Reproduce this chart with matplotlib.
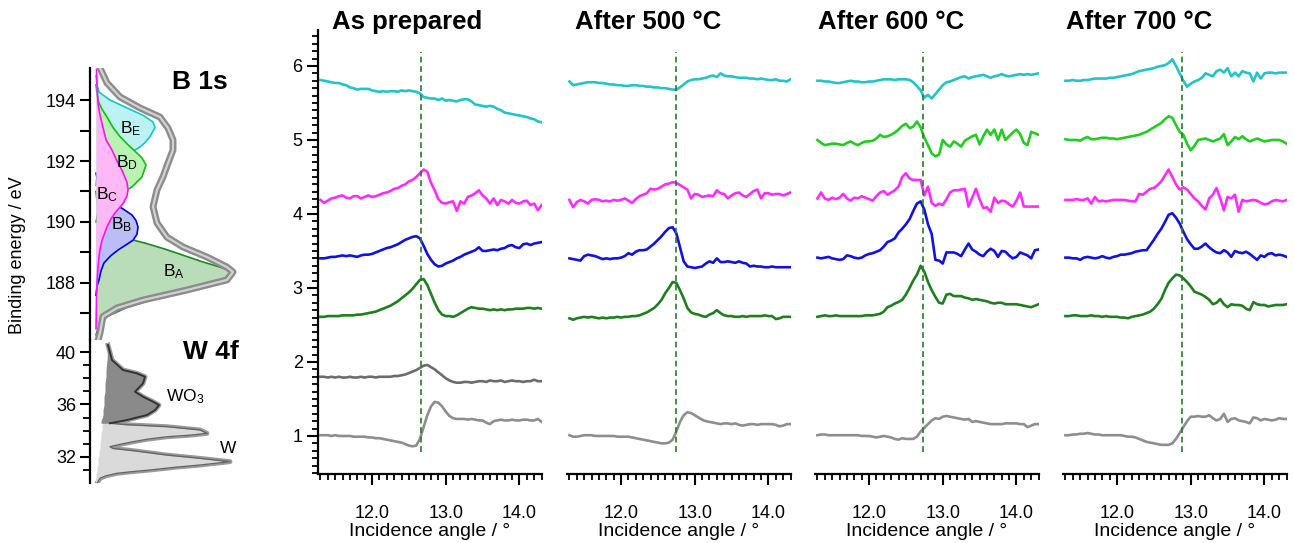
import numpy as np
import matplotlib
matplotlib.use('Agg')
import matplotlib.pyplot as plt
from matplotlib.ticker import MultipleLocator, FormatStrFormatter

plt.rcParams['font.family'] = ['Liberation Sans', 'DejaVu Sans']
plt.rcParams['mathtext.default'] = 'regular'

# ---------------- data ----------------
angle = [11.30, 11.35, 11.40, 11.45, 11.50, 11.55, 11.60, 11.65, 11.70, 11.75,
         11.80, 11.85, 11.90, 11.95, 12.00, 12.05, 12.10, 12.15, 12.20, 12.25,
         12.30, 12.35, 12.40, 12.45, 12.50, 12.55, 12.60, 12.65, 12.70, 12.75,
         12.80, 12.85, 12.90, 12.95, 13.00, 13.05, 13.10, 13.15, 13.20, 13.25,
         13.30, 13.35, 13.40, 13.45, 13.50, 13.55, 13.60, 13.65, 13.70, 13.75,
         13.80, 13.85, 13.90, 13.95, 14.00, 14.05, 14.10, 14.15, 14.20, 14.25, 14.30]

# as prepared
p1_cyan = [5.81, 5.80, 5.79, 5.78, 5.77, 5.77, 5.75, 5.74, 5.71, 5.70, 5.68, 5.69, 5.69, 5.69, 5.67, 5.66,
           5.65, 5.66, 5.65, 5.66, 5.66, 5.65, 5.67, 5.66, 5.67, 5.66, 5.65, 5.63, 5.58, 5.57, 5.56, 5.56,
           5.54, 5.56, 5.53, 5.54, 5.53, 5.52, 5.54, 5.55, 5.55, 5.52, 5.48, 5.47, 5.46, 5.45, 5.46, 5.45,
           5.42, 5.40, 5.37, 5.36, 5.35, 5.34, 5.33, 5.32, 5.31, 5.29, 5.28, 5.25, 5.24]
p1_magenta = [4.19, 4.15, 4.18, 4.21, 4.22, 4.24, 4.25, 4.22, 4.21, 4.24, 4.24, 4.21, 4.23, 4.25, 4.23, 4.24,
              4.26, 4.28, 4.29, 4.31, 4.34, 4.35, 4.38, 4.40, 4.44, 4.46, 4.50, 4.55, 4.60, 4.57, 4.42, 4.32,
              4.20, 4.15, 4.14, 4.16, 4.17, 4.04, 4.17, 4.14, 4.23, 4.25, 4.28, 4.32, 4.25, 4.21, 4.14, 4.21,
              4.12, 4.19, 4.17, 4.14, 4.19, 4.15, 4.14, 4.17, 4.18, 4.12, 4.14, 4.05, 4.12]
p1_blue = [3.40, 3.40, 3.41, 3.42, 3.42, 3.43, 3.44, 3.43, 3.44, 3.43, 3.42, 3.44, 3.45, 3.45, 3.46, 3.48,
           3.50, 3.52, 3.54, 3.55, 3.57, 3.59, 3.62, 3.65, 3.67, 3.69, 3.70, 3.67, 3.57, 3.46, 3.38, 3.32,
           3.29, 3.30, 3.33, 3.35, 3.37, 3.40, 3.42, 3.45, 3.47, 3.49, 3.51, 3.55, 3.50, 3.50, 3.51, 3.52,
           3.51, 3.53, 3.54, 3.57, 3.58, 3.55, 3.54, 3.59, 3.60, 3.58, 3.60, 3.61, 3.62]
p1_green = [2.61, 2.61, 2.62, 2.62, 2.62, 2.62, 2.63, 2.63, 2.63, 2.63, 2.64, 2.64, 2.65, 2.66, 2.67, 2.68,
            2.70, 2.72, 2.74, 2.76, 2.79, 2.82, 2.86, 2.90, 2.94, 2.99, 3.05, 3.11, 3.12, 3.04, 2.92, 2.80,
            2.70, 2.64, 2.62, 2.62, 2.61, 2.63, 2.66, 2.69, 2.72, 2.74, 2.73, 2.72, 2.72, 2.71, 2.70, 2.71,
            2.70, 2.71, 2.70, 2.71, 2.71, 2.72, 2.72, 2.72, 2.73, 2.73, 2.72, 2.73, 2.72]
p1_dgray = [1.80, 1.80, 1.79, 1.80, 1.79, 1.80, 1.79, 1.79, 1.80, 1.79, 1.79, 1.80, 1.79, 1.80, 1.80, 1.79,
            1.80, 1.80, 1.80, 1.80, 1.81, 1.81, 1.82, 1.83, 1.85, 1.87, 1.89, 1.92, 1.95, 1.96, 1.93, 1.90,
            1.86, 1.82, 1.78, 1.75, 1.73, 1.72, 1.72, 1.73, 1.73, 1.72, 1.73, 1.74, 1.74, 1.73, 1.75, 1.74,
            1.74, 1.75, 1.73, 1.74, 1.75, 1.74, 1.74, 1.73, 1.74, 1.74, 1.76, 1.74, 1.74]
p1_lgray = [1.01, 1.01, 1.01, 1.00, 1.01, 1.00, 1.00, 1.00, 1.00, 0.99, 0.99, 0.99, 0.99, 0.98, 0.98, 0.97,
            0.97, 0.96, 0.95, 0.94, 0.93, 0.92, 0.91, 0.89, 0.87, 0.86, 0.87, 0.96, 1.12, 1.28, 1.40, 1.46,
            1.45, 1.40, 1.33, 1.27, 1.24, 1.23, 1.23, 1.23, 1.22, 1.23, 1.22, 1.21, 1.21, 1.18, 1.16, 1.20,
            1.21, 1.22, 1.21, 1.21, 1.22, 1.21, 1.21, 1.22, 1.22, 1.21, 1.21, 1.23, 1.19]

# after 500 C
p2_cyan = [5.79, 5.74, 5.75, 5.76, 5.77, 5.78, 5.78, 5.78, 5.77, 5.77, 5.76, 5.75, 5.75, 5.74, 5.74, 5.73,
           5.73, 5.74, 5.74, 5.73, 5.73, 5.72, 5.72, 5.71, 5.71, 5.70, 5.70, 5.69, 5.68, 5.68, 5.71, 5.75,
           5.79, 5.81, 5.82, 5.82, 5.83, 5.84, 5.86, 5.87, 5.85, 5.90, 5.87, 5.86, 5.86, 5.85, 5.84, 5.84,
           5.84, 5.83, 5.83, 5.82, 5.83, 5.82, 5.81, 5.81, 5.82, 5.80, 5.80, 5.79, 5.82]
p2_magenta = [4.19, 4.09, 4.16, 4.19, 4.17, 4.14, 4.19, 4.20, 4.19, 4.17, 4.18, 4.17, 4.19, 4.18, 4.19, 4.21,
              4.18, 4.15, 4.20, 4.24, 4.26, 4.28, 4.34, 4.33, 4.34, 4.37, 4.40, 4.41, 4.43, 4.42, 4.39, 4.36,
              4.33, 4.21, 4.27, 4.26, 4.23, 4.24, 4.25, 4.24, 4.32, 4.28, 4.27, 4.21, 4.25, 4.28, 4.29, 4.25,
              4.23, 4.27, 4.31, 4.33, 4.21, 4.28, 4.28, 4.26, 4.27, 4.27, 4.25, 4.27, 4.29]
p2_blue = [3.40, 3.39, 3.38, 3.37, 3.43, 3.45, 3.44, 3.43, 3.41, 3.39, 3.40, 3.39, 3.40, 3.40, 3.41, 3.43,
           3.47, 3.45, 3.49, 3.51, 3.51, 3.52, 3.56, 3.60, 3.65, 3.70, 3.76, 3.81, 3.82, 3.74, 3.55, 3.36,
           3.29, 3.28, 3.27, 3.28, 3.29, 3.33, 3.36, 3.34, 3.40, 3.35, 3.35, 3.36, 3.35, 3.34, 3.36, 3.34,
           3.33, 3.29, 3.30, 3.29, 3.29, 3.28, 3.28, 3.29, 3.28, 3.28, 3.28, 3.28, 3.28]
p2_green = [2.59, 2.57, 2.59, 2.60, 2.61, 2.60, 2.61, 2.60, 2.59, 2.60, 2.59, 2.60, 2.60, 2.61, 2.60, 2.61,
            2.61, 2.62, 2.62, 2.63, 2.65, 2.67, 2.70, 2.73, 2.78, 2.84, 2.93, 3.00, 3.08, 3.07, 2.97, 2.86,
            2.73, 2.67, 2.65, 2.64, 2.62, 2.61, 2.64, 2.66, 2.70, 2.66, 2.63, 2.62, 2.62, 2.61, 2.61, 2.62,
            2.61, 2.62, 2.62, 2.62, 2.62, 2.63, 2.62, 2.62, 2.58, 2.59, 2.61, 2.61, 2.61]
p2_lgray = [1.01, 0.99, 0.99, 1.00, 1.01, 1.01, 1.01, 1.00, 1.00, 1.00, 1.00, 1.00, 1.00, 0.99, 0.99, 0.99,
            0.99, 0.98, 0.97, 0.96, 0.95, 0.94, 0.93, 0.92, 0.91, 0.90, 0.90, 0.91, 0.95, 1.06, 1.19, 1.28,
            1.32, 1.31, 1.28, 1.25, 1.22, 1.20, 1.19, 1.18, 1.17, 1.16, 1.17, 1.17, 1.16, 1.17, 1.15, 1.14,
            1.15, 1.16, 1.16, 1.15, 1.16, 1.16, 1.16, 1.16, 1.15, 1.13, 1.14, 1.16, 1.16]

# after 600 C
p3_cyan = [5.80, 5.80, 5.79, 5.79, 5.78, 5.77, 5.77, 5.78, 5.79, 5.80, 5.79, 5.79, 5.78, 5.78, 5.79, 5.79,
           5.80, 5.81, 5.82, 5.82, 5.82, 5.81, 5.82, 5.82, 5.82, 5.81, 5.78, 5.73, 5.67, 5.57, 5.61, 5.56,
           5.62, 5.68, 5.74, 5.78, 5.79, 5.81, 5.83, 5.85, 5.86, 5.83, 5.85, 5.86, 5.87, 5.88, 5.86, 5.84,
           5.86, 5.87, 5.89, 5.87, 5.86, 5.87, 5.88, 5.89, 5.88, 5.89, 5.88, 5.89, 5.90]
p3_lime = [5.00, 4.96, 4.93, 4.94, 4.95, 4.95, 4.94, 4.93, 4.96, 4.98, 4.95, 4.93, 4.96, 4.98, 4.98, 4.99,
           5.02, 5.07, 5.04, 5.05, 5.07, 5.10, 5.14, 5.19, 5.22, 5.16, 5.18, 5.25, 5.17, 5.03, 4.93, 4.82,
           4.78, 4.80, 5.00, 4.94, 4.91, 4.98, 4.95, 4.91, 4.99, 5.02, 5.05, 5.07, 4.94, 5.05, 5.14, 5.07,
           5.14, 5.00, 5.14, 5.00, 5.05, 5.10, 5.14, 5.08, 4.96, 4.93, 5.11, 5.09, 5.07]
p3_magenta = [4.21, 4.29, 4.21, 4.19, 4.22, 4.20, 4.22, 4.27, 4.21, 4.18, 4.22, 4.21, 4.24, 4.22, 4.20, 4.18,
              4.24, 4.29, 4.31, 4.26, 4.29, 4.32, 4.37, 4.50, 4.55, 4.48, 4.46, 4.46, 4.46, 4.25, 4.37, 4.15,
              4.11, 4.14, 4.12, 4.20, 4.29, 4.32, 4.32, 4.33, 4.34, 4.10, 4.22, 4.34, 4.20, 4.08, 4.09, 4.03,
              4.22, 4.15, 4.18, 4.17, 4.13, 4.10, 4.18, 4.29, 4.10, 4.10, 4.10, 4.10, 4.10]
p3_blue = [3.41, 3.40, 3.41, 3.42, 3.40, 3.39, 3.38, 3.39, 3.44, 3.43, 3.41, 3.40, 3.41, 3.44, 3.46, 3.47,
           3.49, 3.51, 3.56, 3.62, 3.64, 3.67, 3.75, 3.80, 3.86, 3.93, 4.04, 4.14, 4.17, 4.06, 3.86, 3.73,
           3.38, 3.37, 3.33, 3.48, 3.48, 3.48, 3.46, 3.43, 3.52, 3.60, 3.52, 3.49, 3.45, 3.43, 3.49, 3.53,
           3.50, 3.42, 3.50, 3.49, 3.44, 3.40, 3.42, 3.48, 3.46, 3.44, 3.40, 3.51, 3.52]
p3_green = [2.61, 2.62, 2.63, 2.62, 2.62, 2.63, 2.62, 2.62, 2.62, 2.62, 2.62, 2.62, 2.62, 2.63, 2.63, 2.63,
            2.64, 2.65, 2.68, 2.74, 2.76, 2.79, 2.81, 2.84, 2.91, 3.00, 3.10, 3.18, 3.30, 3.22, 3.08, 2.97,
            2.88, 2.80, 2.79, 2.91, 2.92, 2.89, 2.89, 2.89, 2.87, 2.86, 2.84, 2.85, 2.84, 2.83, 2.82, 2.80,
            2.79, 2.80, 2.80, 2.78, 2.78, 2.78, 2.78, 2.77, 2.76, 2.75, 2.74, 2.76, 2.78]
p3_lgray = [1.01, 1.02, 1.02, 1.01, 1.01, 1.01, 1.01, 1.01, 1.01, 1.01, 1.01, 1.01, 1.00, 1.00, 1.00, 0.99,
            0.98, 0.99, 1.00, 0.99, 0.98, 0.96, 0.95, 0.97, 0.96, 0.96, 0.96, 0.99, 1.06, 1.11, 1.16, 1.21,
            1.24, 1.23, 1.26, 1.27, 1.26, 1.25, 1.24, 1.23, 1.22, 1.23, 1.19, 1.20, 1.19, 1.18, 1.17, 1.16,
            1.16, 1.16, 1.16, 1.17, 1.17, 1.17, 1.17, 1.16, 1.16, 1.12, 1.14, 1.16, 1.16]

# after 700 C
p4_cyan = [5.80, 5.80, 5.81, 5.80, 5.80, 5.81, 5.81, 5.82, 5.83, 5.83, 5.83, 5.83, 5.84, 5.84, 5.85, 5.86,
           5.87, 5.88, 5.89, 5.91, 5.93, 5.94, 5.95, 5.96, 5.97, 5.99, 6.00, 6.01, 6.04, 6.09, 6.00, 5.90,
           5.80, 5.72, 5.76, 5.79, 5.81, 5.84, 5.90, 5.88, 5.86, 5.93, 5.95, 5.91, 5.97, 5.86, 5.91, 5.86,
           5.93, 5.91, 5.90, 5.79, 5.91, 5.83, 5.90, 5.91, 5.91, 5.90, 5.91, 5.91, 5.91]
p4_lime = [5.01, 5.00, 5.00, 5.00, 4.99, 5.02, 5.04, 5.01, 5.01, 5.02, 5.03, 5.03, 5.02, 5.02, 5.01, 5.02,
           5.03, 5.04, 5.05, 5.06, 5.07, 5.09, 5.11, 5.14, 5.17, 5.20, 5.23, 5.28, 5.32, 5.30, 5.20, 5.11,
           5.07, 4.95, 4.86, 4.92, 5.00, 5.01, 5.02, 5.00, 4.98, 5.00, 5.02, 5.08, 4.93, 4.98, 5.04, 5.01,
           5.05, 5.01, 4.98, 5.00, 5.02, 5.00, 4.98, 4.99, 5.00, 5.00, 5.00, 4.98, 4.95]
p4_magenta = [4.19, 4.19, 4.19, 4.20, 4.19, 4.19, 4.21, 4.14, 4.23, 4.17, 4.18, 4.17, 4.18, 4.19, 4.19, 4.19,
              4.19, 4.18, 4.17, 4.17, 4.27, 4.26, 4.30, 4.34, 4.35, 4.39, 4.44, 4.52, 4.60, 4.50, 4.40, 4.33,
              4.36, 4.33, 4.27, 4.21, 4.17, 4.11, 4.06, 4.21, 4.26, 4.35, 4.21, 4.05, 4.23, 4.21, 4.26, 4.03,
              4.19, 4.17, 4.18, 4.19, 4.18, 4.15, 4.13, 4.14, 4.17, 4.19, 4.18, 4.17, 4.19]
p4_blue = [3.41, 3.41, 3.40, 3.40, 3.38, 3.41, 3.42, 3.41, 3.40, 3.41, 3.43, 3.41, 3.40, 3.42, 3.43, 3.45,
           3.45, 3.46, 3.47, 3.49, 3.50, 3.51, 3.51, 3.58, 3.65, 3.73, 3.80, 3.89, 3.99, 4.01, 3.95, 3.87,
           3.76, 3.66, 3.59, 3.53, 3.53, 3.56, 3.60, 3.55, 3.51, 3.48, 3.47, 3.51, 3.48, 3.42, 3.50, 3.48,
           3.47, 3.49, 3.46, 3.42, 3.38, 3.44, 3.42, 3.46, 3.47, 3.44, 3.45, 3.44, 3.42]
p4_green = [2.62, 2.62, 2.63, 2.63, 2.62, 2.62, 2.62, 2.63, 2.62, 2.62, 2.61, 2.62, 2.61, 2.61, 2.61, 2.60,
            2.60, 2.59, 2.61, 2.62, 2.63, 2.64, 2.66, 2.68, 2.72, 2.78, 2.85, 2.97, 3.07, 3.13, 3.18, 3.17,
            3.13, 3.08, 3.02, 2.95, 2.93, 2.91, 2.88, 2.84, 2.78, 2.80, 2.85, 2.78, 2.74, 2.78, 2.77, 2.77,
            2.76, 2.72, 2.70, 2.81, 2.78, 2.77, 2.77, 2.75, 2.76, 2.77, 2.77, 2.77, 2.78]
p4_lgray = [1.01, 1.01, 1.02, 1.02, 1.03, 1.03, 1.04, 1.03, 1.02, 1.02, 1.01, 1.01, 1.01, 1.01, 1.01, 1.01,
            1.00, 0.99, 0.99, 0.98, 0.96, 0.94, 0.92, 0.91, 0.90, 0.89, 0.88, 0.88, 0.88, 0.90, 0.96, 1.04,
            1.12, 1.20, 1.26, 1.26, 1.27, 1.26, 1.26, 1.28, 1.24, 1.21, 1.23, 1.30, 1.19, 1.23, 1.24, 1.21,
            1.20, 1.19, 1.17, 1.25, 1.24, 1.21, 1.23, 1.22, 1.21, 1.22, 1.24, 1.23, 1.23]

titles = ['As prepared', 'After 500 °C', 'After 600 °C', 'After 700 °C']
resonance = [12.66, 12.75, 12.73, 12.88]

# B 1s components (binding energy, intensity above baseline)
bA_ev = [186.3, 186.6, 186.9, 187.2, 187.5, 187.7, 187.9, 188.1, 188.25, 188.36, 188.5, 188.7, 188.9,
         189.1, 189.3, 189.4, 189.6, 189.8, 190.0, 190.3, 190.7, 191.0]
bA_i = [0, 3, 11, 31, 61, 85, 106, 126, 133, 136, 126, 106, 88, 70, 50, 38, 24, 14, 8, 3, 1, 0]
bB_ev = [187.6, 187.9, 188.1, 188.4, 188.66, 188.9, 189.08, 189.25, 189.4, 189.6, 189.84, 190.05, 190.23,
         190.43, 190.6, 190.8, 191.0, 191.3, 191.6]
bB_i = [0, 1, 3, 5, 8, 15, 22, 30, 37, 41, 42, 40, 36, 27, 18, 10, 5, 2, 0]
bC_ev = [186.5, 187.5, 188.0, 188.5, 188.85, 189.1, 189.4, 189.84, 190.1, 190.3, 190.6, 190.85, 191.05,
         191.3, 191.7, 192.0, 192.36, 192.7, 193.1, 193.5, 193.9, 194.5, 195.0]
bC_i = [0, 0.5, 1, 2, 3, 4, 6, 11, 15, 19, 27, 31, 32, 31, 26, 21, 16, 10, 7, 4, 2, 1, 0.5]
bD_ev = [190.0, 190.3, 190.5, 190.8, 191.05, 191.15, 191.48, 191.87, 192.1, 192.26, 192.5, 192.8, 193.1,
         193.44, 193.7, 193.9, 194.2, 194.5]
bD_i = [0, 2, 6, 17, 31, 36, 46, 50, 46, 41, 33, 24, 17, 11, 6, 3, 1, 0]
bE_ev = [191.2, 191.5, 191.8, 192.0, 192.2, 192.36, 192.46, 192.6, 192.8, 193.1, 193.28, 193.5, 193.74,
         194.0, 194.26, 194.5, 194.8]
bE_i = [0, 1, 5, 12, 26, 39, 44, 49, 54, 59, 57, 47, 31, 14, 3, 1, 0]
b1s_ev = [195.05, 194.56, 194.1, 193.74, 193.44, 193.08, 192.69, 192.36, 191.93, 191.48, 191.05, 190.5,
          189.97, 189.5, 189.18, 188.85, 188.52, 188.36, 188.1, 187.77, 187.44, 187.18, 186.9, 186.36, 186.0]
b1s_i = [4, 11, 24, 44, 64, 72, 77, 77, 72, 67, 61, 57, 61, 71, 87, 111, 131, 137, 131, 91, 47, 21, 7, 4, 1]

# W 4f (binding energy, background, upper edge)
wo3_ev = [40.53, 39.39, 38.63, 38.37, 38.11, 37.61, 36.97, 36.59, 36.21, 35.95, 35.57, 35.19, 34.81, 34.56]
wo3_bg = [18, 17, 16, 16, 16, 15, 15, 14, 14, 14, 13, 13, 12, 12]
wo3_top = [18, 22, 33, 47, 55, 53, 45, 53, 63, 69, 65, 57, 37, 20]
w_ev = [34.70, 34.55, 34.45, 34.30, 34.05, 33.79, 33.65, 33.53, 33.35, 33.15, 32.95, 32.77, 32.64, 32.45,
        32.25, 32.13, 31.90, 31.63, 31.50, 31.37, 31.20, 30.99, 30.85, 30.74, 30.55, 30.36, 29.98]
w_bg = [13, 13, 12, 12, 12, 11, 11, 11, 11, 10, 10, 10, 10, 9, 9, 9, 8, 8, 8, 8, 7, 7, 7, 6, 6, 6, 5]
w_top = [14, 22, 37, 77, 110, 117, 100, 77, 58, 43, 30, 20, 23, 45, 65, 77, 108, 140, 125, 110, 85, 60,
         40, 27, 16, 10, 7]

# ---------------- figure ----------------
W, H = 1294, 543
fig = plt.figure(figsize=(W / 100, H / 100), dpi=100)


def box(x0, y0, x1, y1):
    # pixel box (top-left origin) -> figure fraction
    return [x0 / W, 1 - y1 / H, (x1 - x0) / W, (y1 - y0) / H]


c_cyan = '#22c4c8'
c_lime = '#22cc22'
c_mag = '#ff2cff'
c_blue = '#1212e0'
c_green = '#1f7f1f'
c_dgray = '#6c6c6c'
c_lgray = '#8e8e8e'

panels = [
    [(p1_cyan, c_cyan), (p1_magenta, c_mag), (p1_blue, c_blue), (p1_green, c_green),
     (p1_dgray, c_dgray), (p1_lgray, c_lgray)],
    [(p2_cyan, c_cyan), (p2_magenta, c_mag), (p2_blue, c_blue), (p2_green, c_green),
     (p2_lgray, c_lgray)],
    [(p3_cyan, c_cyan), (p3_lime, c_lime), (p3_magenta, c_mag), (p3_blue, c_blue),
     (p3_green, c_green), (p3_lgray, c_lgray)],
    [(p4_cyan, c_cyan), (p4_lime, c_lime), (p4_magenta, c_mag), (p4_blue, c_blue),
     (p4_green, c_green), (p4_lgray, c_lgray)],
]
lefts = [318, 567, 815, 1063]
title_x = [332, 575, 818, 1066]

for i in range(4):
    ax = fig.add_axes(box(lefts[i], 30, lefts[i] + 224, 474))
    for vals, col in panels[i]:
        ax.plot(angle, vals, '-', color=col, lw=1.9)
    ax.plot([resonance[i], resonance[i]], [0.78, 6.19], color='#2a7a2a', lw=1.2, dashes=(3.5, 2.2))
    ax.set_xlim(11.267, 14.306)
    ax.set_ylim(0.486, 6.486)
    for s in ['top', 'right']:
        ax.spines[s].set_visible(False)
    ax.spines['bottom'].set_linewidth(1.6)
    ax.spines['left'].set_linewidth(1.6)
    ax.xaxis.set_major_locator(MultipleLocator(1.0))
    ax.xaxis.set_minor_locator(MultipleLocator(0.1))
    ax.xaxis.set_major_formatter(FormatStrFormatter('%.1f'))
    ax.tick_params(axis='x', which='major', length=8, width=1.5, labelsize=13, pad=14, colors='black')
    ax.tick_params(axis='x', which='minor', length=4.5, width=1.3)
    ax.set_xlabel('Incidence angle / °', fontsize=14, labelpad=1)
    if i == 0:
        ax.yaxis.set_major_locator(MultipleLocator(1.0))
        ax.yaxis.set_minor_locator(MultipleLocator(0.1))
        ax.tick_params(axis='y', which='major', length=8, width=1.5, labelsize=13, pad=3)
        ax.tick_params(axis='y', which='minor', length=4.5, width=1.3)
    else:
        ax.spines['left'].set_visible(False)
        ax.tick_params(axis='y', which='both', left=False, labelleft=False)
    ax.patch.set_alpha(0)
    fig.text(title_x[i] / W, 1 - 22 / H, titles[i], fontsize=18.5, fontweight='bold', va='center', ha='left')

# ---- B 1s ----
base = 6
axb = fig.add_axes(box(90, 68, 250, 340))
# later components are painted over earlier ones (fill + edge share a zorder step)
b_parts = [(bA_ev, bA_i, '#b9dcb9', '#1a8a1a'),
           (bE_ev, bE_i, '#bdf2f2', '#10c8c8'),
           (bB_ev, bB_i, '#bcbcf6', '#0000e6'),
           (bD_ev, bD_i, '#baf2b4', '#10c010'),
           (bC_ev, bC_i, '#ffb8f6', '#ff10ff')]
z = 1
for ev, inten, fc, ec in b_parts:
    xs = [base + v for v in inten]
    axb.fill_betweenx(ev, base, xs, color=fc, lw=0, zorder=z)
    axb.plot(xs, ev, color=ec, lw=1.2, zorder=z + 0.5)
    z += 1
axb.plot([base + v for v in b1s_i], b1s_ev, color='#8c8c8c', lw=5, solid_capstyle='round', zorder=z)
axb.plot([base + v for v in b1s_i], b1s_ev, color='#d2d2d2', lw=1.6, zorder=z + 0.5)
axb.set_xlim(0, 160)
axb.set_ylim(186.13, 195.05)
for s in ['top', 'right', 'bottom']:
    axb.spines[s].set_visible(False)
axb.spines['left'].set_linewidth(1.6)
axb.set_xticks([])
axb.set_yticks([188, 190, 192, 194])
axb.set_yticks([187, 189, 191, 193], minor=True)
axb.tick_params(axis='y', which='major', length=7, width=1.5, labelsize=13, pad=3)
axb.tick_params(axis='y', which='minor', length=7, width=1.5)
axb.patch.set_alpha(0)
for txt, tx, ty in [('B$_A$', 84, 188.36), ('B$_B$', 32, 189.9), ('B$_C$', 17, 190.9),
                    ('B$_D$', 37, 191.93), ('B$_E$', 41, 193.05)]:
    axb.text(tx, ty, txt, fontsize=12.5, ha='center', va='center', zorder=20)
axb.text(110, 194.6, 'B 1s', fontsize=19, fontweight='bold', ha='center', va='center')

# ---- W 4f ----
axw = fig.add_axes(box(90, 340, 250, 483))
axw.plot(wo3_top, wo3_ev, color='#9a9a9a', lw=3.5, zorder=1)
axw.plot(w_top, w_ev, color='#9a9a9a', lw=3.5, zorder=1)
axw.fill_betweenx(w_ev, w_bg, w_top, color='#dadada', lw=0, zorder=2)
axw.plot(w_top, w_ev, color='#666666', lw=1.0, zorder=2.5)
axw.fill_betweenx(wo3_ev, wo3_bg, wo3_top, color='#8a8a8a', lw=0, zorder=3)
axw.plot(wo3_top, wo3_ev, color='#333333', lw=1.4, zorder=3.5)
axw.set_xlim(0, 160)
axw.set_ylim(30.0, 40.92)
for s in ['top', 'right', 'bottom']:
    axw.spines[s].set_visible(False)
axw.spines['left'].set_linewidth(1.6)
axw.set_xticks([])
axw.set_yticks([32, 36, 40])
axw.set_yticks([31, 33, 34, 35, 37, 38, 39], minor=True)
axw.tick_params(axis='y', which='major', length=7, width=1.5, labelsize=13, pad=3)
axw.tick_params(axis='y', which='minor', length=5, width=1.3)
axw.patch.set_alpha(0)
axw.text(95, 36.6, 'WO$_3$', fontsize=12.5, ha='center', va='center')
axw.text(138, 32.6, 'W', fontsize=12.5, ha='center', va='center')
axw.text(121, 40.0, 'W 4f', fontsize=19, fontweight='bold', ha='center', va='center')

fig.text(18 / W, 1 - 255 / H, 'Binding energy / eV', rotation=90, fontsize=13, ha='center', va='center')

fig.savefig('out.png', dpi=100)
